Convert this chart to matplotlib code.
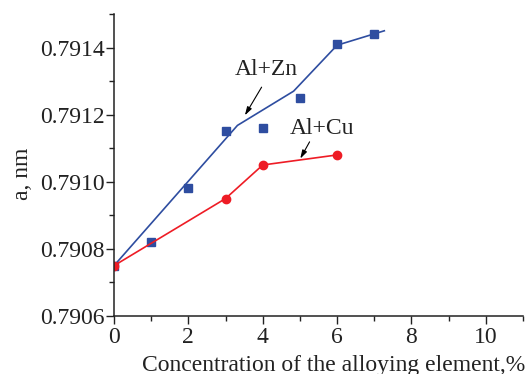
import matplotlib
matplotlib.use("Agg")
import matplotlib.pyplot as plt
from matplotlib.ticker import MultipleLocator

plt.rcParams['font.family'] = ['Liberation Serif', 'DejaVu Serif']

zn_x = [0, 1, 2, 3, 4, 5, 6, 7]
zn_y = [0.79075, 0.79082, 0.79098, 0.79115, 0.79116, 0.79125, 0.79141, 0.79144]
zn_fit_x = [0, 3.32, 4.83, 6.0, 7.27]
zn_fit_y = [0.79075, 0.791168, 0.79127, 0.791407, 0.79145]

cu_x = [0, 3, 4, 6]
cu_y = [0.79075, 0.79095, 0.79105, 0.79108]

xticks = [0, 2, 4, 6, 8, 10]
yticks = [0.7906, 0.7908, 0.7910, 0.7912, 0.7914]
ytick_labels = ["0.7906", "0.7908", "0.7910", "0.7912", "0.7914"]

fig = plt.figure(figsize=(5.32, 3.74), dpi=100)
ax = fig.add_axes([114/532, 1-316/374, (523-114)/532, (316-14)/374])

blue = '#2e4da0'
red = '#ee1c25'
ink = '#222222'
ax.plot(zn_fit_x, zn_fit_y, color=blue, lw=1.2)
ax.plot(zn_x, zn_y, 's', color=blue, ms=5.5, mec=blue)
ax.plot(cu_x, cu_y, '-o', color=red, lw=1.2, ms=6)

ax.set_xlim(0, 11)
ax.set_ylim(0.7906, 0.7915)
ax.set_xticks(xticks)
ax.set_yticks(yticks)
ax.set_yticklabels(ytick_labels)
ax.xaxis.set_minor_locator(MultipleLocator(1))
ax.yaxis.set_minor_locator(MultipleLocator(0.0001))
ax.tick_params(which='major', direction='out', length=6, width=1, labelsize=17, colors=ink)
ax.tick_params(which='minor', direction='out', length=3.5, width=1, colors=ink)
ax.tick_params(axis='x', pad=2)
ax.tick_params(axis='y', pad=0.8)
for s in ['top', 'right']:
    ax.spines[s].set_visible(False)
for s in ['left', 'bottom']:
    ax.spines[s].set_linewidth(1.1)
    ax.spines[s].set_color(ink)

ax.set_xlabel("Concentration of the alloying element,%", fontsize=17, color=ink,
              va='baseline')
ax.set_ylabel("a, nm", fontsize=17, color=ink, va='center')
ax.xaxis.set_label_coords((333.5-114)/409, (316-371.5)/302)
ax.yaxis.set_label_coords(-0.224, 0.47)

ax.text(3.25, 0.791317, "Al+Zn", fontsize=17, color=ink, ha='left', va='baseline')
ax.text(4.73, 0.791142, "Al+Cu", fontsize=17, color=ink, ha='left', va='baseline')
arrow = dict(arrowstyle='-|>,head_length=0.5,head_width=0.15', color='black', lw=0.8,
             shrinkA=0, shrinkB=0)
ax.annotate("", xy=(3.52, 0.791198), xytext=(3.97, 0.791282), arrowprops=arrow)
ax.annotate("", xy=(5.01, 0.791069), xytext=(5.26, 0.791119), arrowprops=arrow)

fig.savefig("out.png", dpi=100)
